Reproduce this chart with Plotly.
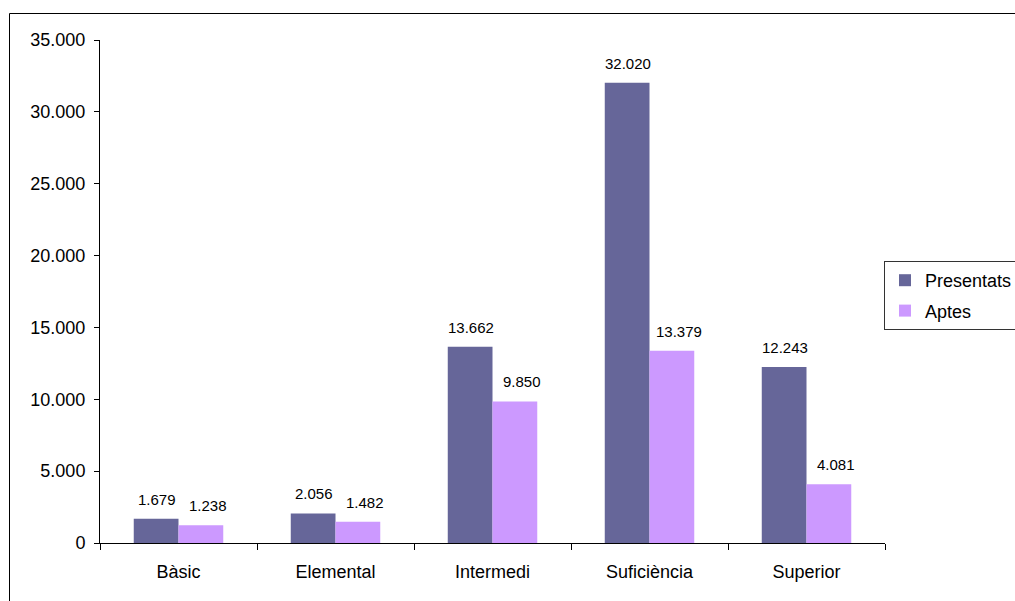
import plotly.graph_objects as go

categories = ["Bàsic", "Elemental", "Intermedi", "Suficiència", "Superior"]
presentats = [1679, 2056, 13662, 32020, 12243]
aptes = [1238, 1482, 9850, 13379, 4081]
series_names = ["Presentats", "Aptes"]
colors = ["#666699", "#CC99FF"]
y_ticks = [0, 5000, 10000, 15000, 20000, 25000, 30000, 35000]

FONT = "Liberation Sans, Arial, sans-serif"

W, H = 1015, 601
L, R, T, B = 100, 885, 40, 543
pw, ph = R - L, B - T

fig = go.Figure()
for name, vals, col in zip(series_names, [presentats, aptes], colors):
    fig.add_trace(go.Bar(x=categories, y=vals, name=name, legendgroup=name,
                         marker=dict(color=col, line=dict(width=0))))

annotations = []
for idx, vals in enumerate([presentats, aptes]):
    for i, v in enumerate(vals):
        annotations.append(dict(
            x=i + (-0.1425 if idx == 0 else 0.1425), y=v, xref="x", yref="y",
            xshift=1 if idx == 0 else 7,
            text=f"{v:,}".replace(",", "."), showarrow=False,
            yanchor="bottom", yshift=9, font=dict(family=FONT, size=15, color="black")))

fig.update_layout(
    width=W, height=H,
    margin=dict(l=L, r=W - R, t=T, b=H - B, autoexpand=False),
    paper_bgcolor="white", plot_bgcolor="white",
    separators=",.",
    barmode="group", bargap=0.43, bargroupgap=0,
    font=dict(family=FONT, size=18, color="black"),
    xaxis=dict(
        type="category", range=[-0.5, 4.5],
        showline=True, linecolor="black", linewidth=1,
        ticks="outside", tickson="boundaries", ticklen=6, tickcolor="black",
        ticklabelstandoff=12,
        showgrid=False, zeroline=False,
        tickfont=dict(family=FONT, size=18),
    ),
    yaxis=dict(
        range=[0, 35000], tickvals=y_ticks,
        tickformat=",d",
        showline=True, linecolor="black", linewidth=1,
        ticks="outside", ticklen=5, tickcolor="black",
        ticklabelstandoff=5,
        showgrid=False, zeroline=False,
        tickfont=dict(family=FONT, size=18),
    ),
    legend=dict(
        x=(884 - L) / pw, y=(B - 261) / ph, xanchor="left", yanchor="top",
        bordercolor="#333333", borderwidth=1, bgcolor="white",
        font=dict(family=FONT, size=18),
        traceorder="grouped", tracegroupgap=4,
    ),
    annotations=annotations,
    shapes=[dict(type="rect", xref="paper", yref="paper",
                 x0=(9.5 - L) / pw, x1=(W + 60 - L) / pw,
                 y0=(B - (H + 60)) / ph, y1=(B - 13.5) / ph,
                 line=dict(color="black", width=1), fillcolor="rgba(0,0,0,0)", layer="below")],
)

fig.write_html("out.html", config={"displayModeBar": False},
               post_script="document.body.style.margin='0';document.body.style.overflow='hidden';")
